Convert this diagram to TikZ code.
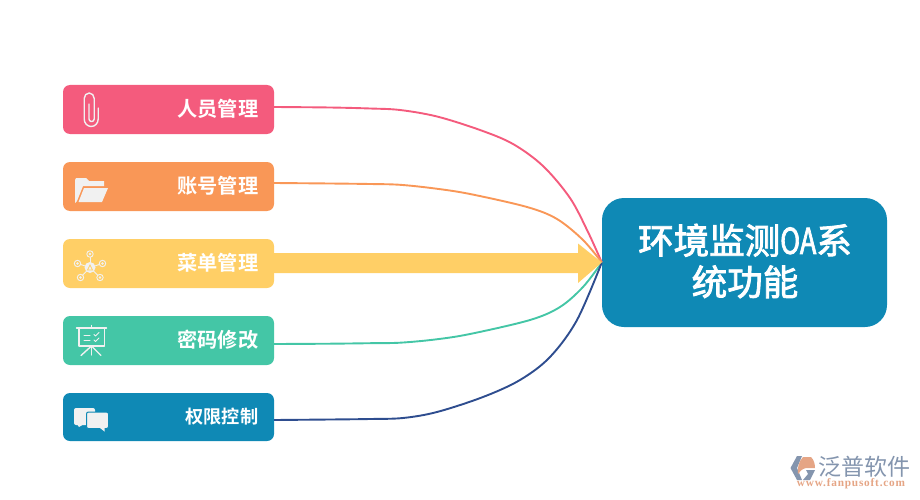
\documentclass[tikz,border=0pt]{standalone}
\usepackage{fontspec}
\setmainfont{Liberation Serif}
\newfontfamily\cjk{Noto Sans CJK SC}[BoldFont={* Bold}]
\newfontfamily\titlefont{Noto Sans CJK SC}[FakeBold=2.4]
\newfontfamily\urlfont{Liberation Serif}[LetterSpace=7]
\usepackage{xcolor}
\usetikzlibrary{arrows.meta,shapes}

\definecolor{pinkc}{HTML}{F45B7D}
\definecolor{orangec}{HTML}{F99757}
\definecolor{yellowc}{HTML}{FFCF66}
\definecolor{tealc}{HTML}{44C6A6}
\definecolor{bluec}{HTML}{0F89B5}
\definecolor{navyc}{HTML}{2E4D8F}
\definecolor{iconc}{HTML}{F1F1F1}
\definecolor{logoc}{HTML}{8495AE}
\definecolor{logoo}{HTML}{E5A585}

\tikzset{
    itembox/.style={rounded corners=7pt, minimum width=211pt, minimum height=49pt, inner sep=0pt},
    itemtext/.style={font=\cjk\bfseries\fontsize{20.2}{20.2}\selectfont, text=white, anchor=east, inner sep=0pt},
    link/.style={line width=1.9pt},
    iconline/.style={draw=iconc, line width=1.4pt, line cap=round, line join=round},
    iconfill/.style={fill=iconc, draw=none},
}

\begin{document}
\begin{tikzpicture}[x=1pt, y=-1pt]
    \useasboundingbox (0,0) rectangle (920,500);

    \draw (168.5,109.5) node[itembox, fill=pinkc](peoplebox){};
    \draw (168.5,186.5) node[itembox, fill=orangec](accountbox){};
    \draw (168.5,263.5) node[itembox, fill=yellowc](menubox){};
    \draw (168.5,340.5) node[itembox, fill=tealc](passwordbox){};
    \draw (168.5,417) node[itembox, fill=bluec, minimum height=48pt](rightsbox){};
    \draw (744.5,262.5) node[rounded corners=22pt, fill=bluec, minimum width=285pt, minimum height=129pt, inner sep=0pt](mainbox){};

    \draw (258.5,108.5) node[itemtext](peopletext){人员管理};
    \draw (258.5,185.5) node[itemtext](accounttext){账号管理};
    \draw (258.5,262.5) node[itemtext](menutext){菜单管理};
    \draw (258.5,339.5) node[itemtext](passwordtext){密码修改};
    \draw (258.5,416.5) node[itemtext, font=\cjk\bfseries\fontsize{18.2}{18.2}\selectfont](rightstext){权限控制};
    \draw (745,261) node[align=center, text=white, inner sep=0pt, font=\titlefont\fontsize{35.5}{41.5}\selectfont](maintext){环境监测\scalebox{0.76}[1]{OA}系\\统功能};

    % connectors
    \coordinate (peopleout) at (peoplebox.east |- 0,107);
    \coordinate (accountout) at (accountbox.east |- 0,183);
    \coordinate (passwordout) at (passwordbox.east |- 0,344);
    \coordinate (rightsout) at (rightsbox.east |- 0,420);

    \draw [link, draw=pinkc] plot[smooth, tension=0.55] coordinates {(peopleout) (330,107.5) (370,108.5) (400,110) (437,116.5) (480,130) (513,144) (543,166) (570,198) (588,232) (mainbox.west)};
    \draw [link, draw=orangec] plot[smooth, tension=0.55] coordinates {(accountout) (330,183.5) (370,184) (400,184.8) (435,188.5) (470,194) (527,207) (557,219) (583,240) (mainbox.west)};
    \draw [link, draw=tealc] plot[smooth, tension=0.55] coordinates {(passwordout) (330,343.7) (370,343.2) (400,342.7) (435,339.5) (470,334) (530,320) (560,307) (583,287) (mainbox.west)};
    \draw [link, draw=navyc] plot[smooth, tension=0.55] coordinates {(rightsout) (330,419.5) (370,419) (403,418) (437,412) (483,397) (520,380) (550,357) (577,320) (mainbox.west)};

    \draw [draw=none, fill=yellowc] (menubox.east |- 0,253) -- (578,253) -- (578,243.5) -- (mainbox.west)
        -- (578,283) -- (578,273) -- (menubox.east |- 0,273) -- cycle;

    % paper clip
    \draw [iconline] (89,104) -- (89,119) arc[start angle=180, end angle=0, radius=2.6] -- (94.2,98.5)
        arc[start angle=0, end angle=-180, x radius=5, y radius=5.5] -- (84.2,119)
        arc[start angle=180, end angle=0, x radius=7, y radius=7.5] -- (98.2,108);

    % folder
    \draw [iconfill] (75,203) -- (75,180) -- (76,178) -- (86,178) -- (89,181) -- (104,181) -- (104,186) -- (83,186) -- (77,201) -- cycle;
    \draw [iconfill] (78.5,202) -- (84,188) -- (108,188) -- (102,202) -- cycle;

    % network
    \foreach \px/\py in {90/254, 77.5/263.5, 102.5/263.5, 80.5/277.5, 100/277.5} {
        \draw [iconline, line width=0.9pt] (90,267.5) -- (\px,\py);
        \draw [iconline, line width=0.9pt, fill=yellowc] (\px,\py) circle (3.2);
        \draw [iconfill] (\px,\py) circle (1.3);
    }
    \draw [iconfill] (90,267.5) circle (5.5);
    \draw [draw=yellowc, line width=0.7pt] (87.5,270) -- (92.5,270) -- (90,265) -- cycle;

    % presentation board
    \draw [iconline] (76.5,328) -- (106.5,328);
    \draw [iconline] (91.5,325.5) -- (91.5,328);
    \draw [iconline] (79,328) -- (79,346) -- (104.5,346) -- (104.5,328);
    \draw [iconline] (91.5,346) -- (91.5,355);
    \draw [iconline] (91.5,346) -- (81,355.5);
    \draw [iconline] (91.5,346) -- (101,355.5);
    \draw [iconline, line width=1pt] (84,335) -- (90,335);
    \draw [iconline, line width=1pt] (84,340) -- (90,340);
    \draw [iconline, line width=1pt] (94,334.5) -- (95.5,336) -- (99,332.5);
    \draw [iconline, line width=1pt] (94,340) -- (95.5,341.5) -- (99,338);

    % chat bubbles
    \draw [iconfill, rounded corners=2pt] (74,408) rectangle (95,425);
    \draw [iconfill] (77,424) -- (79,427) -- (84,424) -- cycle;
    \draw [draw=bluec, line width=1pt, fill=iconc, rounded corners=2pt] (86.5,412) rectangle (108.5,428.5);
    \draw [iconfill] (100,428) -- (104.5,431.5) -- (104.5,428) -- cycle;

    % logo
    \draw [draw=none, fill=logoc] (797,456) -- (802,456) -- (797,468) -- (802,480) -- (797,480) -- (790.5,468) -- cycle;
    \draw [draw=none, fill=logoo] (803,457) -- (811,457) .. controls (814,460) and (815,464) .. (815,468) -- (806,468) .. controls (802,469) and (800,471) .. (798,474) .. controls (797,468) and (799,461) .. (803,457) -- cycle;
    \draw [draw=none, fill=logoc] (806,470) -- (815,470) -- (810,480) -- (803,480) -- (808,474) -- cycle;
    \draw (864,467) node[text=logoc, inner sep=0pt, font=\cjk\fontsize{23}{23}\selectfont](logotext){泛普软件};
    \draw (851,484) node[text=logoo, inner sep=0pt, font=\urlfont\bfseries\fontsize{11.3}{11.3}\selectfont](logourl){www.fanpusoft.com};

\end{tikzpicture}
\end{document}
